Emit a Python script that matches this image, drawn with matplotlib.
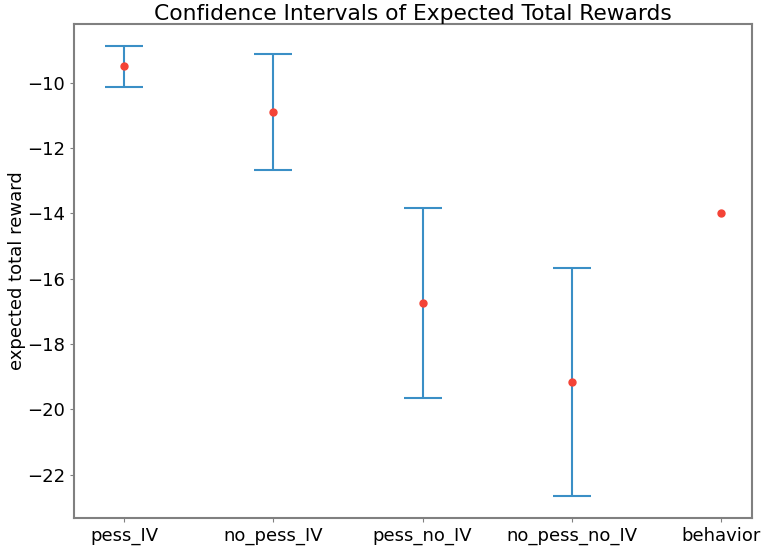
import numpy as np
import matplotlib
matplotlib.use("Agg")
import matplotlib.pyplot as plt


# 方法名称
methods = ["pess_IV", "no_pess_IV", "pess_no_IV", "no_pess_no_IV", "behavior"]
# 点估计
means = [-9.50, -10.89, -16.75, -19.15, -13.98]
# 置信区间上下界 (behavior 没有区间)
upper = [-8.89, -9.13, -13.85, -15.66]
lower = [-10.12, -12.66, -19.65, -22.64]


if __name__ == '__main__':
    fig = plt.figure(figsize=(7.63, 5.5), dpi=100)
    ax = fig.add_axes([0.0974, 0.0582, 0.8878, 0.8985])

    x = np.arange(len(methods))
    n_ci = len(upper)
    mid = (np.array(upper) + np.array(lower)) / 2
    half = (np.array(upper) - np.array(lower)) / 2
    ax.errorbar(x[:n_ci], mid, yerr=half, fmt="none", ecolor="#3a8fc6",
                elinewidth=1.5, capsize=14, capthick=1.5)
    ax.plot(x, means, "o", color="#f44336", markersize=5, zorder=3)

    ax.set_xlim(-0.335, 4.206)
    ax.set_ylim(-23.32, -8.20)
    ax.set_xticks(x)
    ax.set_xticklabels(methods)
    ax.tick_params(labelsize=13, length=3, color="#808080")
    ax.set_ylabel("expected total reward", fontsize=13, labelpad=1)
    ax.set_title("Confidence Intervals of Expected Total Rewards", fontsize=15.7, pad=3)
    for s in ax.spines.values():
        s.set_color("#808080")
        s.set_linewidth(1.5)

    fig.savefig("out.png", dpi=100)
